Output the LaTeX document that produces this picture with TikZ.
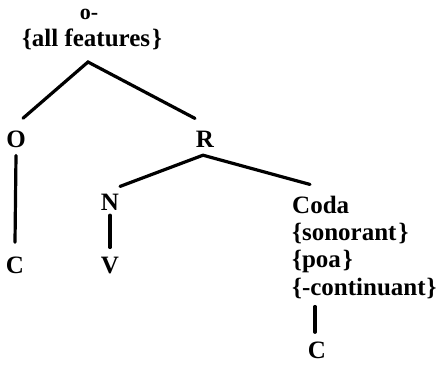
\documentclass[tikz,border=0pt]{standalone}
\usepackage{fontspec}
\setmainfont{Liberation Serif}
\begin{document}
\begin{tikzpicture}[x=1pt,y=-1pt,
  lbl/.style={font=\bfseries\fontsize{25}{28}\selectfont,inner sep=0pt,anchor=base},
  lbll/.style={lbl,anchor=base west},
  branch/.style={line width=3.2pt,line cap=round}]
\useasboundingbox (0,0) rectangle (436,369);
% syllable node and its feature set
\node[lbl,font=\bfseries\fontsize{22}{24}\selectfont] (sig) at (89,20) {o-};
\node[lbl] (feat) at (92,47) {\{all features\kern2pt\}};
\coordinate (apex) at (88,62);
% onset and rhyme
\node[lbl] (O) at (16,147) {O};
\node[lbl] (R) at (205,147) {R};
\node[lbl] (C1) at (15,273) {C};
% nucleus
\node[lbl] (N) at (110,210) {N};
\node[lbl] (V) at (110,273) {V};
% coda with its features
\node[lbll] (coda) at (292,213) {Coda};
\node[lbll] (son) at (292,240) {\{sonorant\kern2pt\}};
\node[lbll] (poa) at (292,267) {\{poa\kern2pt\}};
\node[lbll] (cont) at (292,295) {\{-continuant\kern1pt\}};
\node[lbl] (C2) at (317,358) {C};
% branches
\draw[branch] ([shift={(7,-12)}]O.north) -- (apex) -- ([shift={(-10,-12)}]R.north);
\draw[branch] ([shift={(10,-7)}]N.north) -- ([shift={(-2,8)}]R.south) -- ([shift={(18,-11)}]coda.north west);
\draw[branch] ([shift={(0,8)}]O.south) -- ([shift={(0,-14)}]C1.north);
\draw[branch] ([shift={(0,5)}]N.south) -- ([shift={(0,-9)}]V.north);
\draw[branch] ([shift={(23,8)}]cont.south west) -- ([shift={(-2,-9)}]C2.north);
\end{tikzpicture}
\end{document}
